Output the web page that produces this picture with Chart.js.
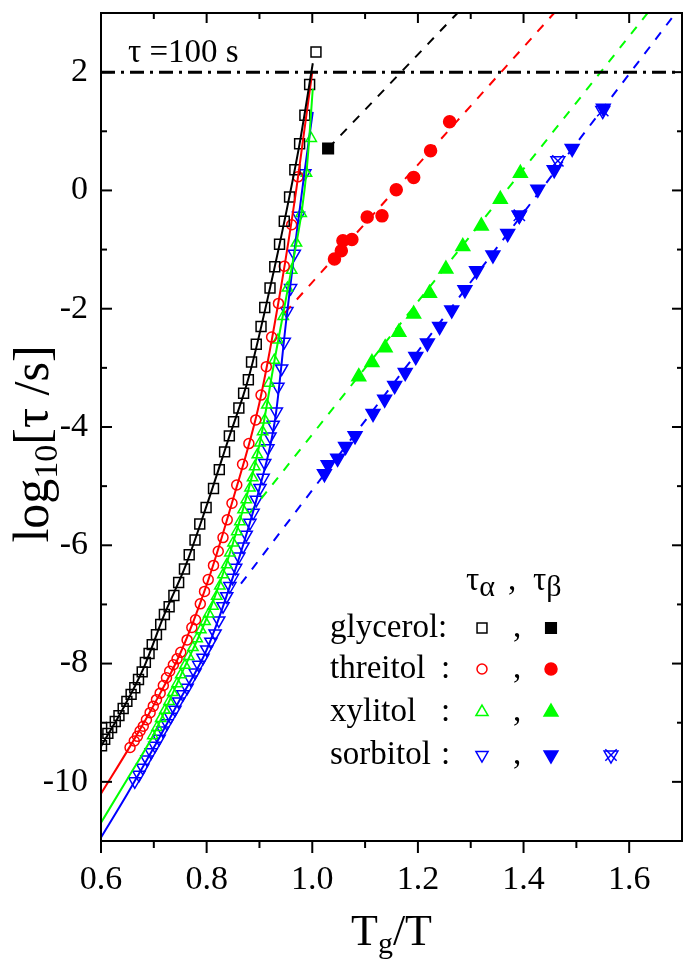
<!DOCTYPE html>
<html>
<head>
<meta charset="utf-8">
<script src="https://cdn.jsdelivr.net/npm/chart.js@4.4.0/dist/chart.umd.min.js"></script>
<style>
  html, body { margin: 0; padding: 0; background: #fff; }
  canvas { display: block; }
</style>
</head>
<body>
<canvas id="chart" width="683" height="963"></canvas>
<script>
// ---- axes ----
var xTickValues = [0.6, 0.8, 1.0, 1.2, 1.4, 1.6];
var xTickLabels = ['0.6', '0.8', '1.0', '1.2', '1.4', '1.6'];
var xMinorTicks = [0.7, 0.9, 1.1, 1.3, 1.5];
var yTickValues = [-10, -8, -6, -4, -2, 0, 2];
var yTickLabels = ['-10', '-8', '-6', '-4', '-2', '0', '2'];
var yMinorTicks = [-9, -7, -5, -3, -1, 1];

// ---- alpha relaxation (open symbols) ----
var glyAlphaX = [0.601, 0.607, 0.613, 0.620, 0.627, 0.634, 0.642, 0.649, 0.657, 0.664, 0.671, 0.678, 0.684, 0.691, 0.697, 0.705, 0.713, 0.720, 0.729, 0.738, 0.747, 0.758, 0.767, 0.778, 0.787, 0.799, 0.813, 0.824, 0.834, 0.843, 0.851, 0.861, 0.870, 0.879, 0.885, 0.894, 0.903, 0.910, 0.920, 0.929, 0.938, 0.947, 0.957, 0.967, 0.976, 0.986, 0.995, 1.007];
var glyAlphaY = [-9.39, -9.28, -9.18, -9.08, -8.98, -8.88, -8.76, -8.64, -8.52, -8.41, -8.27, -8.14, -7.98, -7.83, -7.68, -7.51, -7.34, -7.17, -7.04, -6.85, -6.63, -6.40, -6.16, -5.91, -5.64, -5.36, -5.04, -4.72, -4.42, -4.15, -3.91, -3.68, -3.43, -3.20, -2.90, -2.60, -2.30, -1.98, -1.65, -1.29, -0.91, -0.52, -0.11, 0.35, 0.79, 1.27, 1.79, 2.34];

var threAlphaX = [0.655, 0.663, 0.669, 0.674, 0.680, 0.686, 0.693, 0.699, 0.705, 0.712, 0.718, 0.724, 0.730, 0.737, 0.744, 0.751, 0.763, 0.772, 0.779, 0.788, 0.796, 0.803, 0.813, 0.822, 0.831, 0.839, 0.848, 0.857, 0.868, 0.880, 0.893, 0.903, 0.913, 0.923, 0.936, 0.947, 0.961, 0.973];
var threAlphaY = [-9.42, -9.31, -9.23, -9.14, -9.06, -8.95, -8.83, -8.72, -8.61, -8.50, -8.37, -8.24, -8.13, -8.02, -7.92, -7.81, -7.60, -7.39, -7.26, -6.99, -6.78, -6.58, -6.34, -6.10, -5.87, -5.57, -5.29, -4.98, -4.63, -4.28, -3.88, -3.46, -2.98, -2.48, -1.91, -1.28, -0.58, 0.23];

var xylAlphaX = [0.698, 0.706, 0.713, 0.721, 0.729, 0.736, 0.744, 0.751, 0.759, 0.766, 0.774, 0.782, 0.789, 0.797, 0.804, 0.812, 0.819, 0.825, 0.831, 0.838, 0.844, 0.850, 0.857, 0.863, 0.869, 0.875, 0.882, 0.887, 0.891, 0.896, 0.901, 0.906, 0.910, 0.914, 0.918, 0.928, 0.935, 0.945, 0.953, 0.961, 0.970, 0.979, 0.989, 0.998];
var xylAlphaY = [-9.22, -9.08, -8.93, -8.79, -8.64, -8.49, -8.34, -8.19, -8.03, -7.88, -7.73, -7.58, -7.43, -7.29, -7.16, -7.03, -6.86, -6.69, -6.50, -6.33, -6.13, -5.96, -5.77, -5.60, -5.40, -5.23, -5.03, -4.86, -4.67, -4.47, -4.27, -4.08, -3.88, -3.63, -3.26, -2.87, -2.53, -2.13, -1.65, -1.35, -0.89, -0.39, 0.29, 0.88];

var sorAlphaX = [0.664, 0.672, 0.679, 0.687, 0.695, 0.702, 0.710, 0.717, 0.725, 0.732, 0.740, 0.747, 0.755, 0.763, 0.770, 0.778, 0.785, 0.793, 0.800, 0.808, 0.816, 0.823, 0.831, 0.838, 0.844, 0.849, 0.855, 0.861, 0.869, 0.875, 0.882, 0.888, 0.894, 0.901, 0.907, 0.910, 0.916, 0.920, 0.926, 0.932, 0.935, 0.942, 0.947, 0.952, 0.959, 0.966, 0.974, 0.986];
var sorAlphaY = [-9.99, -9.88, -9.76, -9.62, -9.50, -9.39, -9.27, -9.13, -9.01, -8.90, -8.78, -8.64, -8.52, -8.41, -8.27, -8.15, -8.02, -7.90, -7.76, -7.63, -7.49, -7.27, -7.03, -6.86, -6.69, -6.55, -6.38, -6.19, -6.02, -5.82, -5.62, -5.45, -5.23, -5.03, -4.86, -4.61, -4.36, -4.16, -3.96, -3.74, -3.32, -3.01, -2.56, -2.04, -1.65, -1.07, -0.43, 0.29];

// ---- VFT fit curves (solid) ----
var glyFitX = [0.6, 0.64, 0.68, 0.72, 0.76, 0.80, 0.84, 0.88, 0.92, 0.95, 0.975, 1.001];
var glyFitY = [-9.40, -8.79, -8.09, -7.17, -6.35, -5.33, -4.24, -3.15, -1.65, -0.40, 0.74, 2.15];
var threFitX = [0.6, 0.655, 0.70, 0.75, 0.80, 0.85, 0.90, 0.94, 0.97, 0.985, 1.0];
var threFitY = [-10.20, -9.40, -8.70, -7.83, -6.67, -5.22, -3.59, -1.68, 0.03, 1.02, 2.0];
var xylFitX = [0.6, 0.65, 0.70, 0.75, 0.80, 0.85, 0.90, 0.93, 0.96, 0.98, 0.99, 1.001];
var xylFitY = [-10.69, -9.95, -9.19, -8.22, -7.23, -5.96, -4.30, -2.80, -1.36, -0.36, 0.40, 1.72];
var sorFitX = [0.6, 0.65, 0.70, 0.75, 0.80, 0.85, 0.90, 0.93, 0.95, 0.97, 0.985, 1.001];
var sorFitY = [-10.94, -10.20, -9.42, -8.60, -7.77, -6.53, -5.04, -3.85, -2.25, -0.75, 0.29, 1.33];

// ---- beta relaxation (filled symbols) ----
var glyBetaX = [1.030];
var glyBetaY = [0.71];
var threBetaX = [1.260, 1.224, 1.192, 1.159, 1.132, 1.104, 1.075, 1.058, 1.055, 1.042];
var threBetaY = [1.16, 0.67, 0.22, 0.01, -0.43, -0.45, -0.83, -0.85, -1.02, -1.16];
var xylBetaX = [1.394, 1.356, 1.320, 1.285, 1.253, 1.222, 1.192, 1.164, 1.138, 1.113, 1.088];
var xylBetaY = [0.29, -0.15, -0.60, -0.95, -1.33, -1.74, -2.09, -2.40, -2.66, -2.91, -3.15];
var sorBetaX = [1.551, 1.492, 1.458, 1.427, 1.392, 1.370, 1.342, 1.311, 1.289, 1.264, 1.241, 1.218, 1.196, 1.176, 1.156, 1.137, 1.115, 1.081, 1.063, 1.048, 1.030, 1.023];
var sorBetaY = [1.39, 0.71, 0.35, 0.02, -0.42, -0.73, -1.09, -1.36, -1.68, -2.02, -2.30, -2.58, -2.81, -3.08, -3.30, -3.53, -3.77, -4.15, -4.33, -4.53, -4.64, -4.79];
var sorCrossX = [1.550, 1.465, 1.392];
var sorCrossY = [1.35, 0.50, -0.42];

// ---- Arrhenius lines (dashed) ----
var glyArrX = [1.030, 1.275];
var glyArrY = [0.71, 3.0];
var threArrX = [0.948, 1.458];
var threArrY = [-2.07, 3.0];
var xylArrX = [0.882, 1.635];
var xylArrY = [-5.45, 3.0];
var sorArrX = [0.865, 1.688];
var sorArrY = [-6.65, 3.0];

// tau = 100 s level
var tgLineX = [0.6, 1.7];
var tgLineY = [2, 2];

var legendNames = ['glycerol:', 'threitol', 'xylitol', 'sorbitol'];

var BLACK = '#000000';
var RED = '#ff0000';
var GREEN = '#00ff00';
var BLUE = '#0000ff';
var NONE = 'rgba(0,0,0,0)';
var SERIF = '"Liberation Serif", "Times New Roman", serif';

function pts(xs, ys) {
    return xs.map(function (x, i) { return { x: x, y: ys[i] }; });
}

function fitLine(xs, ys, color) {
    return {
        data: pts(xs, ys), showLine: true, borderColor: color, borderWidth: 2,
        pointRadius: 0, cubicInterpolationMode: 'monotone', fill: false
    };
}

function dashLine(xs, ys, color, dash, width) {
    return {
        data: pts(xs, ys), showLine: true, borderColor: color, borderWidth: width || 2,
        borderDash: dash || [9, 9], pointRadius: 0, fill: false
    };
}

function marks(xs, ys, color, style, radius, filled, rotation) {
    return {
        data: pts(xs, ys), showLine: false, pointStyle: style, pointRadius: radius,
        pointRotation: rotation || 0, pointBorderColor: color, pointBorderWidth: 1.5,
        pointBackgroundColor: filled ? color : NONE
    };
}

function font(size) { return size + 'px ' + SERIF; }

function drawParts(ctx, parts, x0, y0, center) {
    var total = 0;
    parts.forEach(function (p) { ctx.font = font(p[1]); total += ctx.measureText(p[0]).width; });
    var x = center ? x0 - total / 2 : x0;
    parts.forEach(function (p) {
        ctx.font = font(p[1]);
        ctx.fillText(p[0], x, y0 + p[2]);
        x += ctx.measureText(p[0]).width;
    });
}

function legendMark(ctx, style, r, rot, color, filled, x, y) {
    ctx.fillStyle = filled ? color : NONE;
    ctx.strokeStyle = color;
    ctx.lineWidth = 1.5;
    Chart.helpers.drawPoint(ctx, { pointStyle: style, radius: r, rotation: rot, borderWidth: 1.5 }, x, y);
}

function noPadding(s) {
    s.paddingTop = 0; s.paddingBottom = 0; s.paddingLeft = 0; s.paddingRight = 0;
}

var framePlugin = {
    id: 'frame',
    afterDatasetsDraw: function (chart) {
        var ctx = chart.ctx;
        var a = chart.chartArea;
        var sx = chart.scales.x;
        var sy = chart.scales.y;
        ctx.save();
        ctx.strokeStyle = BLACK;
        ctx.lineWidth = 2;
        ctx.strokeRect(a.left, a.top, a.right - a.left, a.bottom - a.top);

        function seg(x1, y1, x2, y2) {
            ctx.beginPath(); ctx.moveTo(x1, y1); ctx.lineTo(x2, y2); ctx.stroke();
        }
        xTickValues.forEach(function (v) {
            var px = sx.getPixelForValue(v);
            seg(px, a.bottom, px, a.bottom + 12);
            seg(px, a.top, px, a.top + 10);
        });
        xMinorTicks.forEach(function (v) {
            var px = sx.getPixelForValue(v);
            seg(px, a.bottom, px, a.bottom + 7);
            seg(px, a.top, px, a.top + 6);
        });
        yTickValues.forEach(function (v) {
            var py = sy.getPixelForValue(v);
            seg(a.left, py, a.left + 11, py);
            seg(a.right, py, a.right - 10, py);
        });
        yMinorTicks.forEach(function (v) {
            var py = sy.getPixelForValue(v);
            seg(a.left, py, a.left + 6, py);
            seg(a.right, py, a.right - 5, py);
        });

        ctx.fillStyle = BLACK;
        ctx.textBaseline = 'alphabetic';
        ctx.textAlign = 'left';

        // annotation
        ctx.font = font(33);
        ctx.fillText('\u03c4 =100 s', 128, 62);

        // axis titles
        drawParts(ctx, [['T', 44, 0], ['g', 30, 8], ['/T', 44, 0]], (a.left + a.right) / 2, 945, true);
        ctx.save();
        ctx.translate(48, 444);
        ctx.rotate(-Math.PI / 2);
        drawParts(ctx, [['log', 50, 0], ['10', 34, 9], ['[\u03c4 /s]', 50, 0]], 0, 0, true);
        ctx.restore();

        // legend header
        ctx.fillStyle = BLACK;
        drawParts(ctx, [['\u03c4', 33, 0], ['\u03b1', 30, 6]], 466, 590, false);
        ctx.font = font(33);
        ctx.fillText(',', 508, 590);
        drawParts(ctx, [['\u03c4', 33, 0], ['\u03b2', 30, 6]], 533, 590, false);

        var rows = [637, 678, 721, 764];
        var cols = [BLACK, RED, GREEN, BLUE];
        var styles = [['rect', 7, 0], ['circle', 5, 0], ['triangle', 7, 0], ['triangle', 7, 180]];
        var fstyles = [['rect', 7.5, 0], ['circle', 6, 0], ['triangle', 8, 0], ['triangle', 8, 180]];
        rows.forEach(function (yb, i) {
            ctx.fillStyle = BLACK;
            ctx.font = font(33);
            ctx.fillText(legendNames[i], 330, yb);
            if (i > 0) ctx.fillText(':', 441, yb);
            ctx.fillText(',', 513, yb);
            legendMark(ctx, styles[i][0], styles[i][1], styles[i][2], cols[i], false, 482, yb - 9);
            legendMark(ctx, fstyles[i][0], fstyles[i][1], fstyles[i][2], cols[i], true, 551, yb - 9);
        });
        legendMark(ctx, 'triangle', 8, 180, BLUE, false, 611, 755);
        legendMark(ctx, 'crossRot', 8, 0, BLUE, false, 611, 755);
        ctx.restore();
    }
};

new Chart(document.getElementById('chart'), {
    type: 'scatter',
    data: {
        datasets: [
            dashLine(tgLineX, tgLineY, BLACK, [14, 6, 3, 6], 3),
            fitLine(glyFitX, glyFitY, BLACK),
            fitLine(threFitX, threFitY, RED),
            fitLine(xylFitX, xylFitY, GREEN),
            fitLine(sorFitX, sorFitY, BLUE),
            dashLine(glyArrX, glyArrY, BLACK),
            dashLine(threArrX, threArrY, RED),
            dashLine(xylArrX, xylArrY, GREEN),
            dashLine(sorArrX, sorArrY, BLUE),
            marks(glyAlphaX, glyAlphaY, BLACK, 'rect', 7, false),
            marks(threAlphaX, threAlphaY, RED, 'circle', 5, false),
            marks(xylAlphaX, xylAlphaY, GREEN, 'triangle', 6, false),
            marks(sorAlphaX, sorAlphaY, BLUE, 'triangle', 7, false, 180),
            marks(glyBetaX, glyBetaY, BLACK, 'rect', 7.5, true),
            marks(threBetaX, threBetaY, RED, 'circle', 6, true),
            marks(xylBetaX, xylBetaY, GREEN, 'triangle', 8, true),
            marks(sorCrossX, sorCrossY, BLUE, 'crossRot', 8, false),
            marks(sorCrossX, sorCrossY, BLUE, 'triangle', 8, false, 180),
            marks(sorBetaX, sorBetaY, BLUE, 'triangle', 8, true, 180)
        ]
    },
    options: {
        responsive: false,
        animation: false,
        devicePixelRatio: 1,
        events: [],
        layout: { autoPadding: false, padding: { top: 13, right: 1, left: 0, bottom: 0 } },
        plugins: { legend: { display: false }, tooltip: { enabled: false } },
        scales: {
            x: {
                type: 'linear', min: 0.6, max: 1.7,
                afterBuildTicks: function (s) { s.ticks = xTickValues.map(function (v) { return { value: v }; }); },
                afterFit: function (s) { s.height = 122; noPadding(s); },
                grid: { display: false, drawTicks: false },
                border: { display: false },
                ticks: {
                    callback: function (v, i) { return xTickLabels[i]; },
                    font: { family: SERIF, size: 34 }, color: BLACK, padding: 19,
                    maxRotation: 0, autoSkip: false
                }
            },
            y: {
                type: 'linear', min: -11, max: 3,
                afterBuildTicks: function (s) { s.ticks = yTickValues.map(function (v) { return { value: v }; }); },
                afterFit: function (s) { s.width = 101; noPadding(s); },
                grid: { display: false, drawTicks: false },
                border: { display: false },
                ticks: {
                    callback: function (v, i) { return yTickLabels[i]; },
                    font: { family: SERIF, size: 34 }, color: BLACK, padding: 13,
                    autoSkip: false
                }
            }
        }
    },
    plugins: [framePlugin]
});
</script>
</body>
</html>
